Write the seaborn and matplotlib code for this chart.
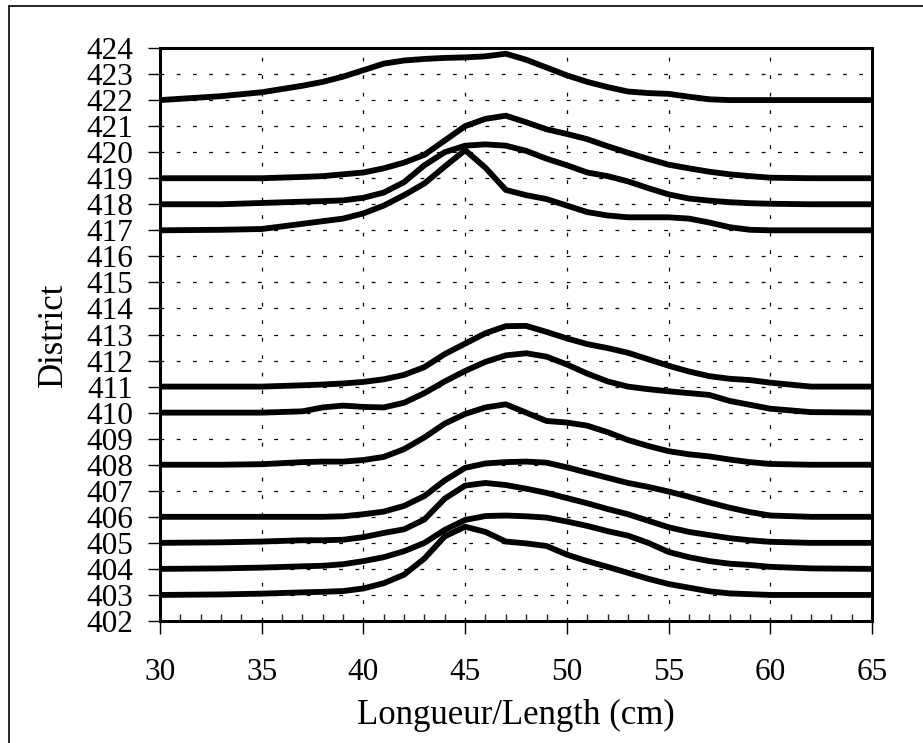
import numpy as np
import pandas as pd
import seaborn as sns
import matplotlib.pyplot as plt
from matplotlib.lines import Line2D
from matplotlib.ticker import MultipleLocator

# x positions (cm) where each curve was read
lengths = [30, 33, 35, 37, 38, 39, 40, 41, 42, 43, 44, 45, 46, 47, 48,
           49, 50, 51, 52, 53, 54, 55, 56, 57, 58, 59, 60, 62, 65]

# curve height above its district baseline
h403 = [0, 0.02, 0.05, 0.10, 0.12, 0.15, 0.25, 0.45, 0.78, 1.40, 2.25, 2.62, 2.42, 2.05, 1.98,
        1.88, 1.55, 1.30, 1.08, 0.85, 0.62, 0.42, 0.28, 0.14, 0.06, 0.03, 0, 0, 0]
h404 = [0, 0.02, 0.05, 0.10, 0.12, 0.18, 0.30, 0.45, 0.68, 1.00, 1.50, 1.88, 2.03, 2.05, 2.02,
        1.97, 1.82, 1.65, 1.45, 1.28, 1.00, 0.65, 0.45, 0.30, 0.20, 0.15, 0.08, 0.02, 0]
h405 = [0, 0.02, 0.05, 0.10, 0.10, 0.12, 0.22, 0.38, 0.52, 0.90, 1.70, 2.20, 2.30, 2.22, 2.08,
        1.92, 1.72, 1.52, 1.30, 1.10, 0.85, 0.60, 0.42, 0.30, 0.18, 0.10, 0.04, 0, 0]
h406 = [0, 0, 0, 0, 0, 0.02, 0.10, 0.20, 0.42, 0.80, 1.40, 1.88, 2.05, 2.10, 2.12,
        2.08, 1.90, 1.70, 1.50, 1.30, 1.15, 0.97, 0.77, 0.55, 0.35, 0.18, 0.05, 0, 0]
h408 = [0, 0, 0.02, 0.10, 0.12, 0.12, 0.18, 0.30, 0.60, 1.05, 1.58, 1.95, 2.20, 2.32, 2.00,
        1.68, 1.62, 1.50, 1.25, 0.95, 0.72, 0.52, 0.40, 0.32, 0.20, 0.10, 0.03, 0, 0]
h410 = [0, 0, 0, 0.05, 0.20, 0.27, 0.22, 0.20, 0.38, 0.75, 1.20, 1.60, 1.95, 2.20, 2.28,
        2.15, 1.85, 1.50, 1.20, 1.00, 0.90, 0.82, 0.75, 0.68, 0.45, 0.30, 0.15, 0.02, 0]
h411 = [0, 0, 0, 0.05, 0.08, 0.12, 0.18, 0.28, 0.45, 0.75, 1.25, 1.65, 2.05, 2.32, 2.33,
        2.10, 1.85, 1.63, 1.48, 1.30, 1.05, 0.80, 0.58, 0.40, 0.30, 0.25, 0.15, 0, 0]
h417 = [0, 0.02, 0.05, 0.25, 0.35, 0.45, 0.65, 0.95, 1.35, 1.80, 2.45, 3.08, 2.40, 1.55, 1.35,
        1.20, 0.95, 0.70, 0.57, 0.50, 0.50, 0.50, 0.45, 0.30, 0.12, 0.02, 0, 0, 0]
h418 = [0, 0, 0.05, 0.10, 0.12, 0.15, 0.25, 0.45, 0.85, 1.50, 2.00, 2.25, 2.30, 2.25, 2.05,
        1.75, 1.50, 1.22, 1.08, 0.88, 0.62, 0.38, 0.22, 0.14, 0.08, 0.04, 0.02, 0, 0]
h419 = [0, 0, 0, 0.05, 0.08, 0.15, 0.22, 0.38, 0.60, 0.90, 1.45, 2.00, 2.28, 2.40, 2.15,
        1.88, 1.70, 1.50, 1.23, 0.98, 0.74, 0.52, 0.38, 0.25, 0.15, 0.08, 0.02, 0, 0]
h422 = [0, 0.15, 0.30, 0.55, 0.70, 0.90, 1.15, 1.40, 1.52, 1.58, 1.62, 1.64, 1.68, 1.78, 1.55,
        1.25, 0.95, 0.70, 0.50, 0.33, 0.27, 0.24, 0.13, 0.03, 0, 0, 0, 0, 0]

districts = [403, 404, 405, 406, 408, 410, 411, 417, 418, 419, 422]
heights = [h403, h404, h405, h406, h408, h410, h411, h417, h418, h419, h422]

rows = []
for d, h in zip(districts, heights):
    for x, v in zip(lengths, h):
        rows.append({"district": d, "length": x, "position": d + v})
df = pd.DataFrame(rows)

sns.set_theme(style="white")
plt.rcParams["font.family"] = ["Liberation Serif", "DejaVu Serif"]

fig = plt.figure(figsize=(9.23, 7.43), dpi=100)
ax = fig.add_axes([160 / 923, 1 - 621 / 743, 712 / 923, 573 / 743])

# grid first so the curves sit on top
for yv in range(403, 424):
    ax.axhline(yv, color="black", lw=0.9, ls=(0, (3, 10)), zorder=1)
for xv in range(35, 65, 5):
    ax.axvline(xv, color="black", lw=0.9, ls=(0, (3, 11)), zorder=1)

sns.lineplot(
    data=df,
    x="length",
    y="position",
    units="district",
    estimator=None,
    sort=False,
    color="black",
    linewidth=4.2,
    solid_joinstyle="round",
    legend=False,
    ax=ax,
    zorder=3,
)

ax.set_xlim(30, 65)
ax.set_ylim(402, 424)
ax.xaxis.set_major_locator(MultipleLocator(5))
ax.xaxis.set_minor_locator(MultipleLocator(1))
ax.yaxis.set_major_locator(MultipleLocator(1))

ax.tick_params(axis="x", which="major", direction="out", length=9, width=1,
               bottom=True, labelsize=22.5, pad=18, colors="black")
ax.tick_params(axis="x", which="minor", direction="in", length=5, width=1,
               bottom=True)
ax.tick_params(axis="y", which="major", direction="out", length=9, width=1,
               left=True, labelsize=22.5, pad=10, colors="black")

for s in ax.spines.values():
    s.set_visible(True)
    s.set_color("black")
    s.set_linewidth(2.2)

ax.set_xlabel("Longueur/Length (cm)", fontsize=25, labelpad=8, color="black")
ax.set_ylabel("District", fontsize=25, labelpad=12, color="black")

# outer frame (left and top edges visible in the scan)
fig.add_artist(Line2D([9 / 923, 9 / 923], [0, 1 - 6 / 743], color="black", lw=1.2))
fig.add_artist(Line2D([9 / 923, 1], [1 - 6 / 743, 1 - 6 / 743], color="black", lw=1.2))

fig.savefig("out.png", dpi=100)
